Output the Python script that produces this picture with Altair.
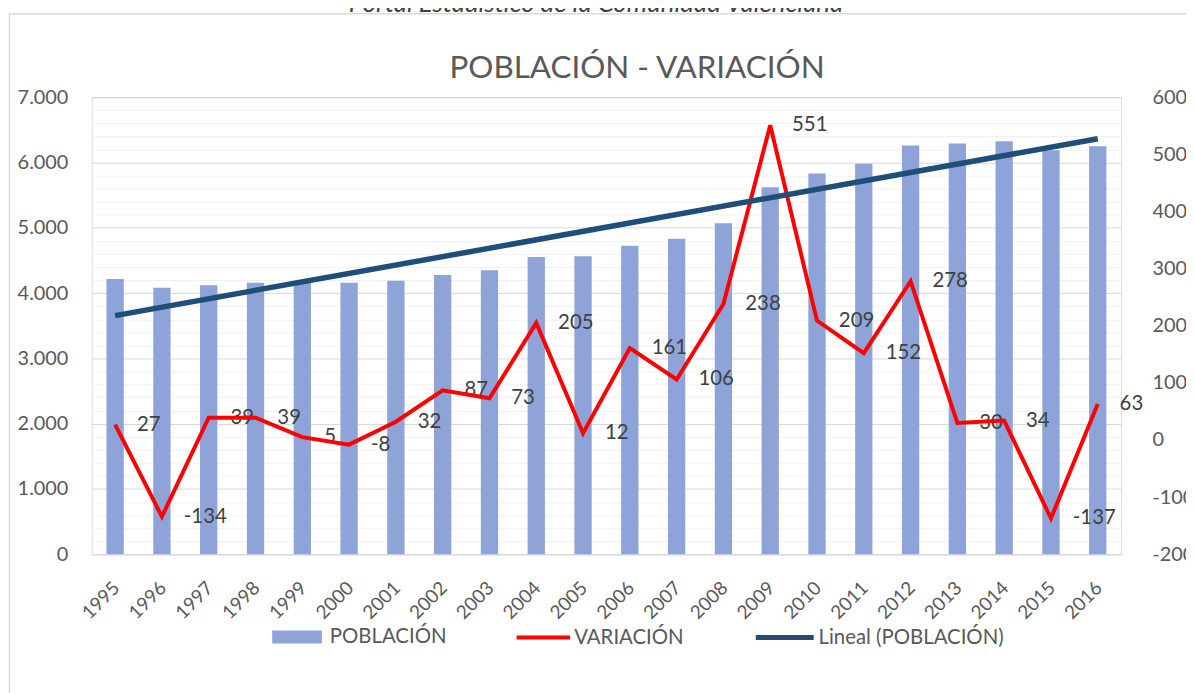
import altair as alt
import pandas as pd

years = [1995, 1996, 1997, 1998, 1999, 2000, 2001, 2002, 2003, 2004, 2005,
         2006, 2007, 2008, 2009, 2010, 2011, 2012, 2013, 2014, 2015, 2016]
poblacion = [4216, 4082, 4121, 4160, 4165, 4157, 4189, 4276, 4349, 4554, 4566,
             4727, 4833, 5071, 5622, 5831, 5983, 6261, 6291, 6325, 6188, 6251]
variacion = [27, -134, 39, 39, 5, -8, 32, 87, 73, 205, 12,
             161, 106, 238, 551, 209, 152, 278, 30, 34, -137, 63]
left_ticks = list(range(0, 7001, 200))
right_ticks = [-200, -100, 0, 100, 200, 300, 400, 500, 600]

title_text = "POBLACIÓN - VARIACIÓN"
source_text = "Portal Estadístico de la Comunidad Valenciana"
series = ["POBLACIÓN", "VARIACIÓN", "Lineal (POBLACIÓN)"]
colors = ["#8EA4D8", "#FF0000", "#1F4E79"]

df = pd.DataFrame({"year": years, "pob": poblacion, "var": variacion})
src_df = pd.DataFrame({"t": [source_text]})
title_df = pd.DataFrame({"t": [title_text]})

FONT = "Lato"
GREY = "#595959"


def legend(x, y, **kw):
    return alt.Legend(title=None, orient="none", legendX=x, legendY=y,
                      labelFontSize=20.5, labelFont=FONT, labelColor=GREY,
                      padding=0, labelLimit=300, **kw)


x_enc = alt.X("year:O",
              scale=alt.Scale(paddingInner=0.63, paddingOuter=0.315),
              axis=alt.Axis(title=None, labelAngle=315, labelFontSize=19,
                            labelColor=GREY, labelFont=FONT, ticks=False,
                            domain=True, domainColor="#D9D9D9",
                            labelPadding=24, labelOffset=-5))

frame = alt.Chart(src_df).mark_rect(fillOpacity=0, stroke="#D9D9D9",
                                     strokeWidth=1.5).encode(
    x=alt.value(-82.8), x2=alt.value(1120), y=alt.value(-84), y2=alt.value(640))

source = alt.Chart(src_df).mark_text(fontSize=26, fontStyle="italic", font=FONT,
                                      color="#404040", baseline="alphabetic",
                                      align="center").encode(
    text="t:N", x=alt.value(507.7), y=alt.value(-85.5))

title = alt.Chart(title_df).mark_text(fontSize=31.6, font=FONT, color=GREY,
                                       baseline="alphabetic", align="center").encode(
    text="t:N", x=alt.value(549), y=alt.value(-19.5))

left_axis = alt.Axis(title=None, values=left_ticks, ticks=False, domain=False,
                     labelExpr="datum.value % 1000 === 0 ? replace(format(datum.value, ','), ',', '.') : ''",
                     labelFontSize=20, labelColor=GREY, labelFont=FONT,
                     labelPadding=24,
                     gridColor={"condition": {"test": "datum.value % 1000 === 0",
                                              "value": "#D9D9D9"},
                                "value": "#F1F1F1"})

bars = alt.Chart(df).transform_calculate(s="'" + series[0] + "'").mark_bar().encode(
    x=x_enc,
    y=alt.Y("pob:Q", scale=alt.Scale(domain=[0, 7000], nice=False), axis=left_axis),
    fill=alt.Fill("s:N",
                  scale=alt.Scale(domain=[series[0]], range=[colors[0]]),
                  legend=legend(180.7, 517.5, symbolType="M-1,-0.26H1V0.26H-1Z",
                                symbolSize=2500, labelOffset=7)),
)

left_group = alt.layer(frame, source, title, bars)

right_axis = alt.Axis(title=None, orient="right", values=right_ticks, ticks=False,
                      domain=False, grid=False, labelFontSize=20, labelColor=GREY,
                      labelFont=FONT, labelPadding=31, labelExpr="'' + datum.value")

labels = alt.Chart(df).transform_calculate(lab="'' + datum.var").mark_text(
    align="left", baseline="middle", dx=22, fontSize=20.5, font=FONT,
    color="#404040").encode(
    x="year:O",
    y=alt.Y("var:Q", scale=alt.Scale(domain=[-200, 600], nice=False), axis=right_axis),
    text="lab:N",
)

red = alt.Chart(df).transform_calculate(s="'" + series[1] + "'").mark_line(
    strokeWidth=4).encode(
    x="year:O",
    y=alt.Y("var:Q"),
    stroke=alt.Stroke("s:N",
                      scale=alt.Scale(domain=[series[1]], range=[colors[1]]),
                      legend=legend(425.7, 515, symbolType="stroke", symbolSize=2900,
                                    symbolStrokeWidth=4, labelOffset=2)),
)

right_group = alt.layer(labels, red)

trend = alt.Chart(df).transform_regression(
    "year", "pob", method="linear"
).transform_calculate(s="'" + series[2] + "'").mark_line(strokeWidth=5.5).encode(
    x="year:O",
    y=alt.Y("pob:Q", scale=alt.Scale(domain=[0, 7000], nice=False), axis=None),
    color=alt.Color("s:N",
                    scale=alt.Scale(domain=[series[2]], range=[colors[2]]),
                    legend=legend(665.7, 512, symbolType="stroke", symbolSize=3400,
                                  symbolStrokeWidth=5, labelOffset=2)),
)

chart = alt.layer(left_group, right_group, trend).resolve_scale(
    y="independent"
).properties(
    width=1036.4, height=460.2,
    autosize=alt.AutoSizeParams(type="none"),
    padding={"left": 84.3, "top": 87.5, "right": 65.3, "bottom": 137.3},
).configure_view(stroke=None).configure(background="white")

chart.save("out.html", embed_options={"renderer": "svg", "actions": False})
